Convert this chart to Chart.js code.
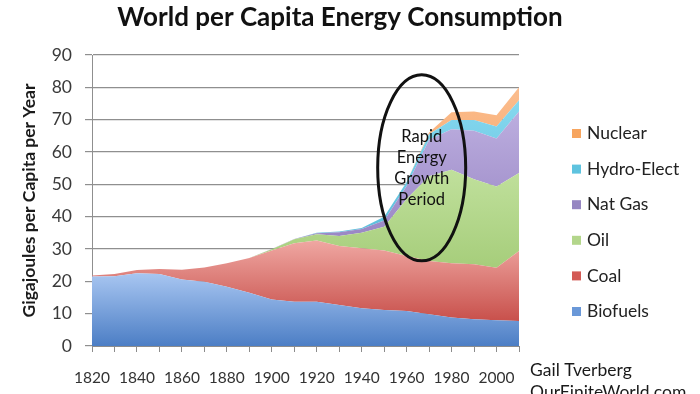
<!DOCTYPE html>
<html><head><meta charset="utf-8">
<script src="https://cdn.jsdelivr.net/npm/chart.js@4.4.1/dist/chart.umd.min.js"></script>
<style>html,body{margin:0;padding:0;background:#fff;}#wrap{width:700px;height:394px;position:relative;}</style>
</head><body><div id="wrap"><canvas id="c" width="700" height="394"></canvas></div>
<script>
// ---- data ----
const years = [1820,1830,1840,1850,1860,1870,1880,1890,1900,1910,1920,1930,1940,1950,1960,1970,1980,1990,2000,2010];
const yTicks = [0,10,20,30,40,50,60,70,80,90];
const seriesNames = ['Biofuels','Coal','Oil','Nat Gas','Hydro-Elect','Nuclear'];
const biofuels = [21.5,21.6,22.5,22.3,20.6,19.9,18.3,16.5,14.4,13.7,13.7,12.7,11.7,11.1,10.8,9.8,8.8,8.3,8.0,7.7];
const coal     = [0.3,0.7,1.0,1.5,3.0,4.4,7.3,10.7,15.1,18.1,18.9,18.2,18.5,18.4,17.0,16.5,16.8,17.0,16.2,21.7];
const oil      = [0,0,0,0,0,0,0,0,0.4,1.2,2.0,3.1,4.8,7.4,17.7,26.2,28.9,26.3,25.1,24.1];
const natGas   = [0,0,0,0,0,0,0,0,0.1,0.1,0.3,1.2,1.2,1.9,4.0,11.3,12.5,15.0,14.9,19.0];
const hydro    = [0,0,0,0,0,0,0,0,0,0,0.1,0.2,0.3,1.2,1.2,1.7,2.9,3.3,3.7,3.5];
const nuclear  = [0,0,0,0,0,0,0,0,0,0,0,0,0,0,0,0.5,2.4,2.6,3.5,4.0];
const titleText = 'World per Capita Energy Consumption';
const yAxisTitle = 'Gigajoules per Capita per Year';
const noteLines = ['Rapid','Energy','Growth','Period'];
const creditLines = ['Gail Tverberg','OurFiniteWorld.com'];

const allSeries = [biofuels, coal, oil, natGas, hydro, nuclear];
const topColors    = ['#a8c6f1','#efa7a2','#c0e09c','#bcaedf','#86d8ef','#fbbd8e'];
const bottomColors = ['#4c7ec5','#c8504b','#a4cc78','#8f7bbd','#4fb7d6','#f5974f'];
const legendColors = ['#6a98d8','#d35a55','#b3d68b','#9686c2','#5ec3df','#f7a55f'];
const FONT = 'Lato, "Open Sans", sans-serif';

function gradientFor(i) {
  return (context) => {
    const chart = context.chart;
    const area = chart.chartArea;
    if (!area) return bottomColors[i];
    let top = -Infinity, base = Infinity;
    for (let k = 0; k < years.length; k++) {
      let below = 0;
      for (let j = 0; j < i; j++) below += allSeries[j][k];
      top = Math.max(top, below + allSeries[i][k]);
      base = Math.min(base, below);
    }
    const ys = chart.scales.y;
    let y0 = ys.getPixelForValue(top), y1 = ys.getPixelForValue(base);
    if (y1 - y0 < 2) y1 = y0 + 2;
    const g = chart.ctx.createLinearGradient(0, y0, 0, y1);
    g.addColorStop(0, topColors[i]);
    g.addColorStop(1, bottomColors[i]);
    return g;
  };
}

const datasets = allSeries.map((arr, i) => ({
  label: seriesNames[i],
  data: arr,
  fill: i === 0 ? 'origin' : '-1',
  backgroundColor: gradientFor(i),
  borderWidth: 0,
  borderColor: 'rgba(0,0,0,0)',
  pointRadius: 0,
  pointHoverRadius: 0,
  tension: 0
}));

const extras = {
  id: 'extras',
  afterDatasetsDraw(chart) {
    const {ctx} = chart;
    const xs = chart.scales.x, ys = chart.scales.y;
    // ellipse annotation
    const cx = xs.getPixelForValue(14.67), cy = ys.getPixelForValue(55.1);
    ctx.save();
    ctx.beginPath();
    ctx.ellipse(cx, cy, 44, 93, 0, 0, Math.PI * 2);
    ctx.lineWidth = 3;
    ctx.strokeStyle = '#111';
    ctx.stroke();
    ctx.fillStyle = '#111';
    ctx.font = '16.5px ' + FONT;
    ctx.textAlign = 'center';
    ctx.textBaseline = 'middle';
    noteLines.forEach((t, k) => ctx.fillText(t, cx, 137 + k * 21));
    ctx.restore();
  },
  afterDraw(chart) {
    const {ctx} = chart;
    ctx.save();
    // title
    ctx.font = 'bold 26px ' + FONT;
    ctx.fillStyle = '#111';
    ctx.textAlign = 'center';
    ctx.textBaseline = 'middle';
    ctx.fillText(titleText, 340, 17.5);
    // legend (top-down: Nuclear ... Biofuels)
    ctx.font = '17.5px ' + FONT;
    ctx.textBaseline = 'middle';
    ctx.textAlign = 'left';
    for (let k = 0; k < seriesNames.length; k++) {
      const i = seriesNames.length - 1 - k;
      const y = 133.5 + k * 35.6;
      ctx.fillStyle = legendColors[i];
      ctx.fillRect(572, y - 4.5, 9, 9);
      ctx.fillStyle = '#222';
      ctx.fillText(seriesNames[i], 587, y);
    }
    // credit
    ctx.font = '17.5px ' + FONT;
    ctx.fillStyle = '#1a1a1a';
    ctx.fillText(creditLines[0], 530, 370);
    ctx.fillText(creditLines[1], 530, 392);
    ctx.restore();
  }
};

new Chart(document.getElementById('c'), {
  type: 'line',
  data: { labels: years, datasets },
  plugins: [extras],
  options: {
    responsive: false,
    animation: false,
    events: [],
    layout: { padding: { left: 0, top: 55, right: 181, bottom: 0 } },
    plugins: {
      legend: { display: false },
      tooltip: { enabled: false },
      title: { display: false }
    },
    scales: {
      x: {
        type: 'category',
        offset: false,
        grid: { drawOnChartArea: false, drawTicks: true, tickLength: 6, color: '#8c8c8c' },
        border: { color: '#8c8c8c' },
        ticks: {
          autoSkip: false, maxRotation: 0, minRotation: 0, padding: 17,
          color: '#333', font: { family: FONT, size: 15.5 },
          callback: (v, i) => ((years[i] - years[0]) % 20 === 0 && i < years.length - 1) ? String(years[i]) : ''
        },
        afterFit: (s) => { s.height = 48; }
      },
      y: {
        stacked: true,
        min: yTicks[0], max: yTicks[yTicks.length - 1],
        afterBuildTicks: (s) => { s.ticks = yTicks.map(v => ({ value: v })); },
        grid: { color: '#8f8f8f', tickLength: 7, lineWidth: 1.2 },
        border: { color: '#8f8f8f' },
        ticks: { padding: 13, color: '#3a3a3a', font: { family: FONT, size: 17.5 } },
        title: {
          display: true, text: yAxisTitle, color: '#1a1a1a',
          font: { family: FONT, size: 17.5, weight: 'bold' },
          padding: { top: 19, bottom: 0 }
        },
        afterFit: (s) => { s.width = 92; }
      }
    }
  }
});
</script>
</body></html>
